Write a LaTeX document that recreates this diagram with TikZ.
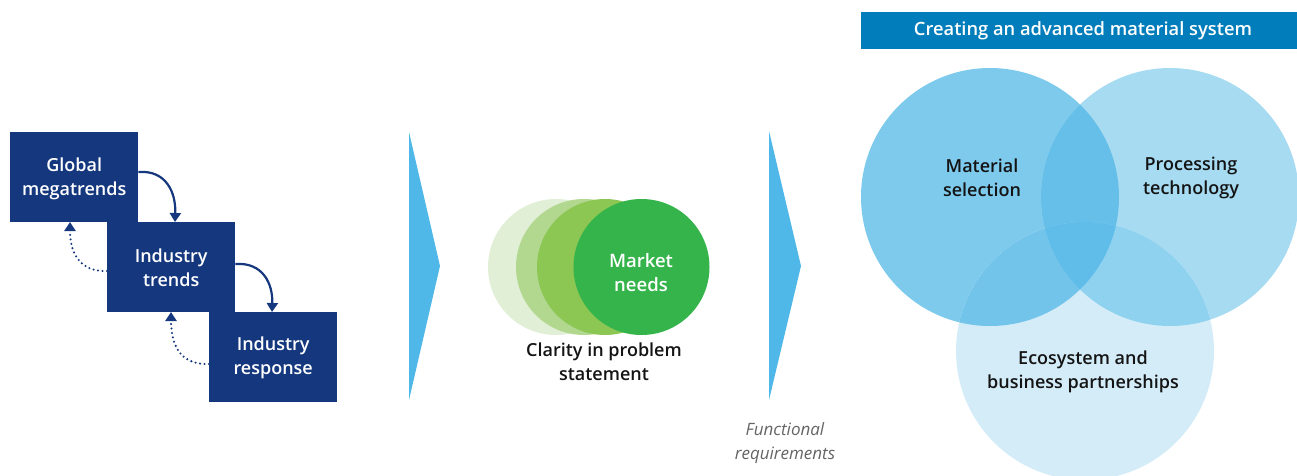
\documentclass[tikz,border=0pt]{standalone}
\usepackage{fontspec}
\IfFontExistsTF{Open Sans Semibold}{%
  \setmainfont{Open Sans}[BoldFont={Open Sans Semibold}]}{%
  \IfFontExistsTF{Open Sans SemiBold}{%
    \setmainfont{Open Sans}[BoldFont={Open Sans SemiBold}]}{%
    \setmainfont{Open Sans}}}
\usetikzlibrary{arrows.meta}
\definecolor{navy}{RGB}{20,55,126}
\definecolor{chev}{RGB}{80,184,232}
\definecolor{gA}{RGB}{224,239,214}
\definecolor{gB}{RGB}{178,216,144}
\definecolor{gC}{RGB}{140,198,83}
\definecolor{gD}{RGB}{52,180,75}
\definecolor{hdr}{RGB}{0,125,186}
\definecolor{vA}{RGB}{125,202,237}
\definecolor{vB}{RGB}{167,219,242}
\definecolor{vC}{RGB}{212,236,248}
\definecolor{vAB}{RGB}{102,191,233}
\definecolor{vAC}{RGB}{114,196,235}
\definecolor{vBC}{RGB}{143,210,240}
\definecolor{vABC}{RGB}{96,188,232}
\definecolor{txt}{RGB}{20,20,20}
\definecolor{greytxt}{RGB}{100,100,100}
\tikzset{
  navybox/.style={fill=navy, text=white, minimum width=128pt, minimum height=90pt, inner sep=0pt, align=center, anchor=north west},
  boxtxt/.style={text=white, align=center, font=\bfseries\fontsize{18}{24}\selectfont},
  solidarr/.style={draw=navy, line width=2.2pt, -{Triangle[width=11pt,length=9pt]}},
  dotarr/.style={draw=navy, line width=2.3pt, line cap=round, dash pattern=on 0pt off 4.5pt, -{Triangle[width=11pt,length=9pt]}},
  lbl/.style={align=center, text=txt, font=\bfseries\fontsize{18}{24}\selectfont},
}
\begin{document}
\begin{tikzpicture}[x=1pt,y=-1pt]
\useasboundingbox (0,0) rectangle (1297,476);
% left boxes
\node[navybox] (gm) at (10,132) {};
\node[navybox] (it) at (107,222) {};
\node[navybox] (ir) at (209,312) {};
\node[boxtxt] (gmt) at ([yshift=-2pt]gm.center) {Global\\megatrends};
\node[boxtxt] (itt) at ([yshift=-1pt]it.center) {Industry\\trends};
\node[boxtxt] (irt) at ([yshift=-1pt]ir.center) {Industry\\response};
\coordinate (s1) at (gm.north east |- 0,172);
\coordinate (e1) at (175,222);
\coordinate (s2) at (it.north east |- 0,264);
\coordinate (e2) at (272,312);
\draw[solidarr] (s1) .. controls (166,170) and (176,192) .. (e1);
\draw[solidarr] (s2) .. controls (263,262) and (273,284) .. (e2);
\coordinate (d1) at (it.north west |- 0,271);
\coordinate (f1) at (70,222);
\coordinate (d2) at (ir.north west |- 0,364);
\coordinate (f2) at (171,312);
\draw[dotarr] (d1) .. controls (84,272) and (70,258) .. (f1);
\draw[dotarr] (d2) .. controls (185,365) and (171,351) .. (f2);
% chevrons
\fill[chev] (409,132) -- (440,266) -- (409,400) -- cycle;
\fill[chev] (769,131) -- (801,266) -- (769,400) -- cycle;
% green circles
\fill[gA] (556,267) circle (68);
\fill[gB] (584,267) circle (68);
\fill[gC] (605,267) circle (68);
\node[circle, fill=gD, minimum size=136pt, inner sep=0pt] (mn) at (641.5,267) {};
\node[text=white, align=center, font=\bfseries\fontsize{18.5}{24}\selectfont] (mnt) at (641,273) {Market\\needs};
\node[lbl] (cl) at (604,362) {Clarity in problem\\statement};
\node[align=center, text=greytxt, font=\itshape\fontsize{17}{24}\selectfont] (fr) at (785,443) {Functional\\requirements};
% header
\fill[hdr] (861,12) rectangle (1297,49);
\node[text=white, font=\bfseries\fontsize{18.3}{20}\selectfont] (hd) at (1083,31) {Creating an advanced material system};
% venn
\fill[vA] (990,197) circle (129);
\fill[vB] (1170,197) circle (129);
\fill[vC] (1085,351) circle (129);
\begin{scope}
\clip (990,197) circle (129);
\fill[vAB] (1170,197) circle (129);
\fill[vAC] (1085,351) circle (129);
\end{scope}
\begin{scope}
\clip (1170,197) circle (129);
\fill[vBC] (1085,351) circle (129);
\end{scope}
\begin{scope}
\clip (990,197) circle (129);
\clip (1170,197) circle (129);
\fill[vABC] (1085,351) circle (129);
\end{scope}
\node[lbl] (ms) at (982,178) {Material\\selection};
\node[lbl] (pt) at (1191,178) {Processing\\technology};
\node[lbl] (eb) at (1083,372) {Ecosystem and\\business partnerships};
\end{tikzpicture}
\end{document}
